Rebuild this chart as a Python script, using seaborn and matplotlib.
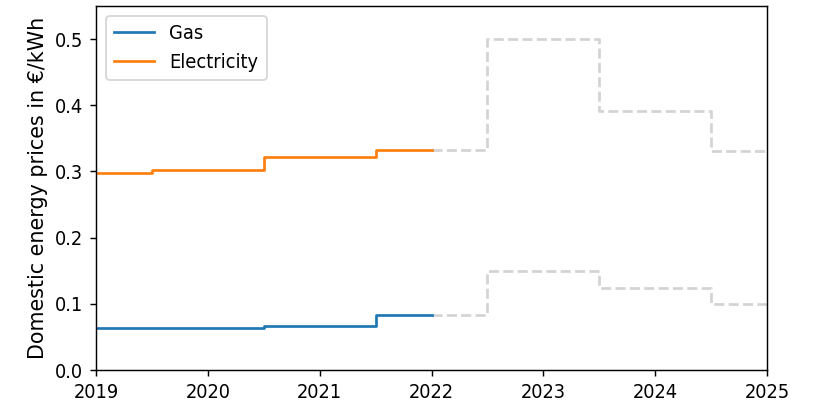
import matplotlib
matplotlib.use("Agg")
import matplotlib.pyplot as plt
import seaborn as sns
from matplotlib import font_manager

# Historical prices (step change at given start time)
hist_years = [2019, 2019.5, 2020.5, 2021.5, 2022]
gas_hist = [0.063, 0.063, 0.067, 0.083, 0.083]
elec_hist = [0.298, 0.302, 0.322, 0.332, 0.332]

# Forecast prices
fc_years = [2022, 2022.5, 2023.5, 2024.5, 2025]
gas_fc = [0.083, 0.150, 0.124, 0.100, 0.100]
elec_fc = [0.332, 0.500, 0.392, 0.331, 0.331]

xticks = [2019, 2020, 2021, 2022, 2023, 2024, 2025]

print(sorted({(f.name, f.stretch) for f in font_manager.fontManager.ttflist if "DejaVu" in f.name}))

plt.rcParams["font.family"] = ["DejaVu Sans"]
plt.rcParams["font.stretch"] = "condensed"
plt.rcParams["font.size"] = 11

DPI = 130
fig = plt.figure(figsize=(815 / DPI, 405 / DPI), dpi=DPI)
ax = fig.add_axes([96 / 815, 35 / 405, (767 - 96) / 815, (370 - 6) / 405])

sns.lineplot(x=fc_years, y=gas_fc, ax=ax, color="lightgray", linestyle="--",
             drawstyle="steps-post", legend=False)
sns.lineplot(x=fc_years, y=elec_fc, ax=ax, color="lightgray", linestyle="--",
             drawstyle="steps-post", legend=False)
sns.lineplot(x=hist_years, y=gas_hist, ax=ax, color="#1f77b4",
             drawstyle="steps-post", label="Gas")
sns.lineplot(x=hist_years, y=elec_hist, ax=ax, color="#ff7f0e",
             drawstyle="steps-post", label="Electricity")

ax.set_xlim(2019, 2025)
ax.set_ylim(0, 0.55)
ax.set_xticks(xticks)
ax.set_xticklabels([str(t) for t in xticks])
ax.set_yticks([0.0, 0.1, 0.2, 0.3, 0.4, 0.5])
ax.set_ylabel("Domestic energy prices in €/kWh", fontsize=11.4, fontstretch="normal")
ax.legend(loc="upper left")

fig.savefig("out.png", dpi=DPI)
